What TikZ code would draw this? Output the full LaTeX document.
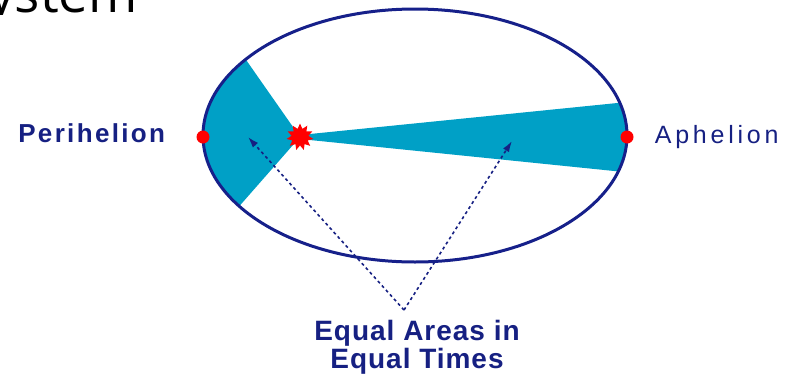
\documentclass[tikz,border=0pt]{standalone}
\usepackage{fontspec}
\setmainfont{Liberation Sans}
\newfontfamily\titlefont{Open Sans}
\usetikzlibrary{shapes.geometric, arrows.meta, positioning, calc}
\definecolor{orbitblue}{RGB}{22,32,138}
\definecolor{sweepblue}{RGB}{0,160,198}
\definecolor{labelblue}{RGB}{22,32,130}

\begin{document}
\begin{tikzpicture}[
    x=1pt, y=-1pt,
    tag/.style={text=labelblue, inner sep=0pt, font=\fontsize{26}{26}\selectfont\bfseries\addfontfeatures{LetterSpace=9}},
    planet/.style={circle, fill=red, minimum size=13pt, inner sep=0pt},
    sunstar/.style={star, star points=11, star point ratio=1.6, fill=red, minimum size=27pt, inner sep=0pt},
    sweep/.style={fill=sweepblue},
    pointer/.style={draw=labelblue, line width=1.6pt, dash pattern=on 3pt off 3pt, -{Latex[length=11pt, width=7pt]}}
]
\useasboundingbox (0,0) rectangle (790,378);
\clip (0,0) rectangle (790,378);

% cut-off slide title
\begin{scope}
\clip (0,0) rectangle (200,14);
\node [anchor=base east, inner sep=0pt, font=\titlefont\fontsize{53}{53}\selectfont] (title) at (138,12.5) {ystem};
\end{scope}

\coordinate (centre) at (415,135.5);
\coordinate (focus) at (300,137);

% swept areas
\path [sweep] (focus) -- ($(centre)+(217:212 and 126.5)$)
    arc [start angle=217, end angle=146, x radius=212, y radius=126.5] -- cycle;
\path [sweep] ($(focus)+(0,-2)$) -- ($(centre)+(-15:212 and 126.5)$)
    arc [start angle=-15, end angle=16.5, x radius=212, y radius=126.5] -- ($(focus)+(0,2)$) -- cycle;

% orbit
\draw [orbitblue, line width=3pt] (centre) ellipse [x radius=212, y radius=126.5];

\node [sunstar] (sun) at (focus) {};
\node [planet] (peri) at (203,137) {};
\node [planet] (aph) at (627,137) {};

\node [tag, left=31pt of peri, yshift=3.5pt] (perilabel) {Perihelion};
\node [tag, right=21pt of aph, font=\fontsize{25}{25}\selectfont\addfontfeatures{LetterSpace=15}] (aphlabel) {Aphelion};

\coordinate (apex) at (404,310);
\coordinate (leftarea) at (248,137);
\coordinate (rightarea) at (512,141);
\node [tag, align=center, below=10pt of apex, xshift=13pt, font=\fontsize{28}{28}\selectfont\bfseries\addfontfeatures{LetterSpace=3.5}] (areas) {Equal Areas in\\Equal Times};

\path [pointer] (apex) -- (leftarea);
\path [pointer] (apex) -- (rightarea);
\end{tikzpicture}
\end{document}
